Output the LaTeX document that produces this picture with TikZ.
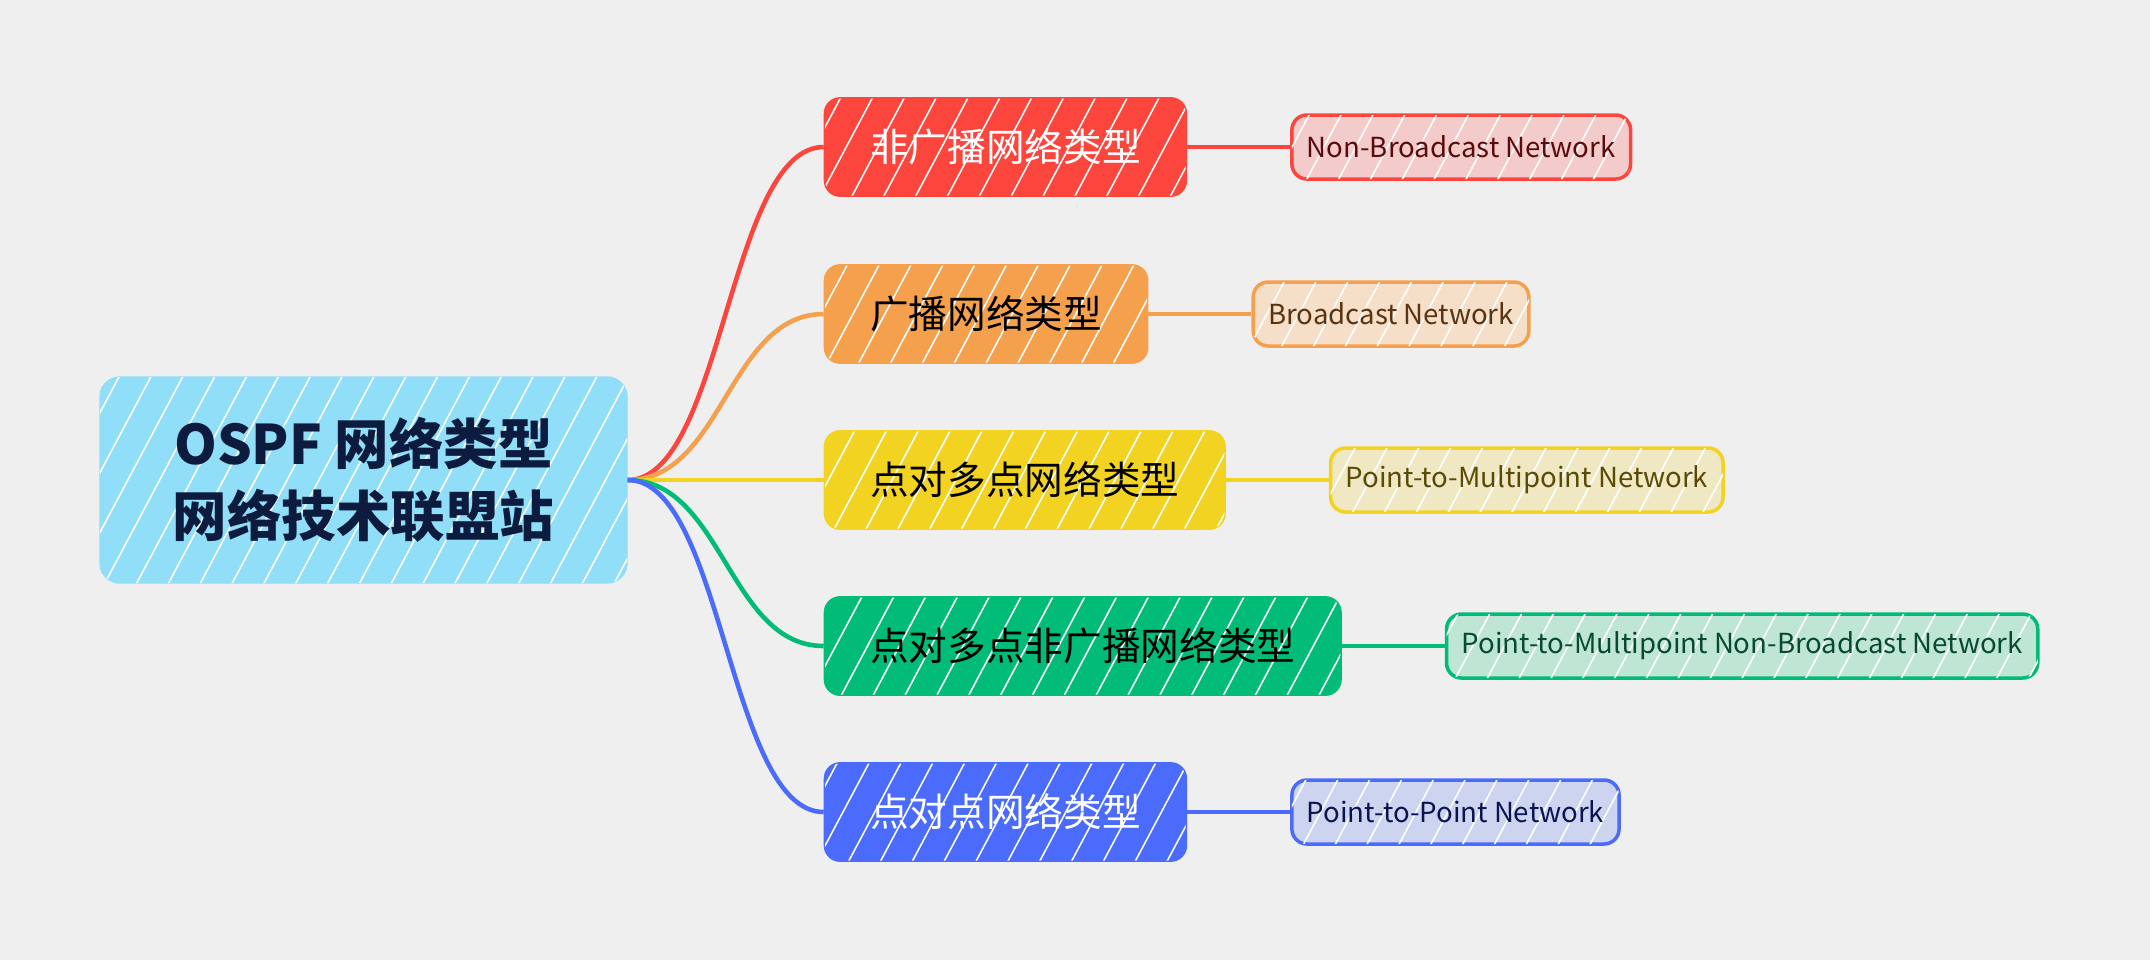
\documentclass[tikz,border=0pt]{standalone}
\usepackage{fontspec}
\setmainfont{Noto Sans CJK SC}
\usepackage{tikz}
\usetikzlibrary{positioning, patterns.meta}
\definecolor{bgc}{HTML}{EFEFEF}
\definecolor{rootc}{HTML}{90DEF7}
\definecolor{rootink}{HTML}{0D1B3E}
\definecolor{redc}{HTML}{FC463D}
\definecolor{redl}{HTML}{F2CBCA}
\definecolor{redink}{HTML}{5A0C0C}
\definecolor{orac}{HTML}{F5A04C}
\definecolor{oral}{HTML}{F5DFC8}
\definecolor{oraink}{HTML}{5A3410}
\definecolor{yelc}{HTML}{F2D321}
\definecolor{yell}{HTML}{F0E8C2}
\definecolor{yelink}{HTML}{5A4A06}
\definecolor{grnc}{HTML}{00BC77}
\definecolor{grnl}{HTML}{BFE5D5}
\definecolor{grnink}{HTML}{064A30}
\definecolor{bluc}{HTML}{4A6BFB}
\definecolor{blul}{HTML}{CCD4F0}
\definecolor{bluink}{HTML}{0A1450}
\tikzstyle{hatch} = [postaction={pattern={Lines[angle=62, distance=8pt, line width=0.45pt]}, pattern color=white, fill opacity=0.35}]
\tikzstyle{rootbox} = [rectangle, rounded corners=0.2cm, minimum width=5.27cm, minimum height=2.06cm, align=center, fill=rootc, draw=rootc, text=rootink, font=\fontsize{15.5}{20.5}\selectfont\bfseries, hatch]
\tikzstyle{mainbox} = [rectangle, rounded corners=0.15cm, minimum height=0.97cm, inner xsep=0.45cm, line width=0.8pt, font=\fontsize{11}{13}\selectfont, hatch]
\tikzstyle{subbox} = [rectangle, rounded corners=0.15cm, minimum height=0.64cm, inner xsep=0.15cm, line width=1pt, font=\fontsize{7.85}{10}\selectfont, hatch]
\tikzstyle{branch} = [line width=1.3pt]
\tikzstyle{twig} = [line width=1pt]

\begin{document}
\begin{tikzpicture}[node distance=1.03cm]
\fill[bgc] (0,0) rectangle (21.5,-9.6);
\useasboundingbox (0,0) rectangle (21.5,-9.6);
\node (root) [rootbox] at (3.635,-4.8) {OSPF 网络类型\\网络技术联盟站};
\node (nbma) [mainbox, fill=redc, draw=redc, text=white, right=1.96cm of root, yshift=3.33cm] {非广播网络类型};
\node (bcast) [mainbox, fill=orac, draw=orac, text=black, right=1.96cm of root, yshift=1.66cm] {广播网络类型};
\node (p2mp) [mainbox, fill=yelc, draw=yelc, text=black, right=1.96cm of root] {点对多点网络类型};
\node (p2mpnb) [mainbox, fill=grnc, draw=grnc, text=black, right=1.96cm of root, yshift=-1.66cm] {点对多点非广播网络类型};
\node (p2p) [mainbox, fill=bluc, draw=bluc, text=white, right=1.96cm of root, yshift=-3.32cm] {点对点网络类型};
\node (nbmaen) [subbox, fill=redl, draw=redc, text=redink, right=of nbma] {Non-Broadcast Network};
\node (bcasten) [subbox, fill=oral, draw=orac, text=oraink, right=of bcast] {Broadcast Network};
\node (p2mpen) [subbox, fill=yell, draw=yelc, text=yelink, right=of p2mp] {Point-to-Multipoint Network};
\node (p2mpnben) [subbox, fill=grnl, draw=grnc, text=grnink, right=of p2mpnb] {Point-to-Multipoint Non-Broadcast Network};
\node (p2pen) [subbox, fill=blul, draw=bluc, text=bluink, right=of p2p] {Point-to-Point Network};
\draw[branch, redc] (root.east) .. controls +(0.95,0) and +(-0.95,0) .. (nbma.west);
\draw[branch, orac] (root.east) .. controls +(0.95,0) and +(-0.95,0) .. (bcast.west);
\draw[branch, yelc] (root.east) -- (p2mp.west);
\draw[branch, grnc] (root.east) .. controls +(0.95,0) and +(-0.95,0) .. (p2mpnb.west);
\draw[branch, bluc] (root.east) .. controls +(0.95,0) and +(-0.95,0) .. (p2p.west);
\draw[twig, redc] (nbma) -- (nbmaen);
\draw[twig, orac] (bcast) -- (bcasten);
\draw[twig, yelc] (p2mp) -- (p2mpen);
\draw[twig, grnc] (p2mpnb) -- (p2mpnben);
\draw[twig, bluc] (p2p) -- (p2pen);
\end{tikzpicture}
\end{document}
